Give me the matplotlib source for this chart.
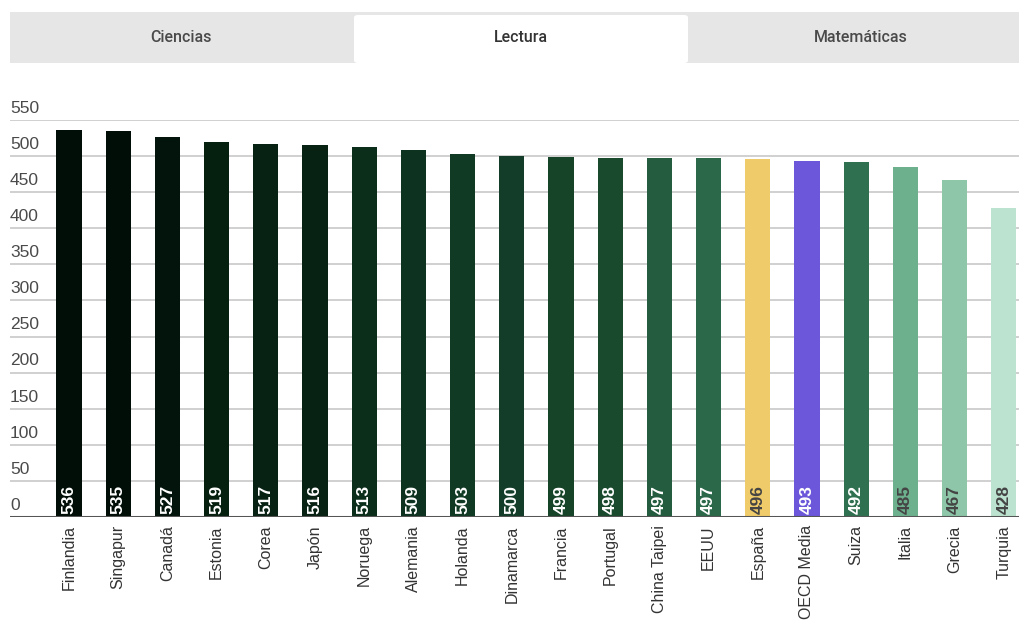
import matplotlib
matplotlib.use('Agg')
import matplotlib.pyplot as plt
import matplotlib.patches as mpatches
from matplotlib.transforms import blended_transform_factory, offset_copy

# ---------------------------------------------------------------------------
# Data
# ---------------------------------------------------------------------------
countries = ['Finlandia', 'Singapur', 'Canadá', 'Estonia', 'Corea', 'Japón',
             'Noruega', 'Alemania', 'Holanda', 'Dinamarca', 'Francia', 'Portugal',
             'China Taipei', 'EEUU', 'España', 'OECD Media', 'Suiza', 'Italia',
             'Grecia', 'Turquia']
scores = [536, 535, 527, 519, 517, 516, 513, 509, 503, 500, 499, 498,
          497, 497, 496, 493, 492, 485, 467, 428]
bar_colors = ['#010e07', '#010e07', '#03140c', '#062010', '#072113', '#072113',
              '#0b2e1b', '#0d3320', '#103a24', '#133d28', '#164428', '#1a4a2e',
              '#235c3e', '#2b684a', '#f0cb69', '#6c56d9', '#2f7050', '#6db08e',
              '#8dc6a8', '#bce3cf']
label_dark = ['España', 'Italia', 'Grecia', 'Turquia']
tabs = ['Ciencias', 'Lectura', 'Matemáticas']
active_tab = 'Lectura'
yticks = list(range(0, 551, 50))

CHART_FONT = ['Liberation Sans', 'DejaVu Sans']
TAB_FONT = ['Roboto', 'DejaVu Sans']
plt.rcParams['font.family'] = CHART_FONT

W, H = 1020, 638
fig = plt.figure(figsize=(W / 100, H / 100), dpi=100)
fig.patch.set_facecolor('white')

# ---------------------------------------------------------------------------
# Tab strip
# ---------------------------------------------------------------------------
strip_x0, strip_x1 = 10, 1020
tab_x0, tab_w = 11, 340
tab_y0, tab_y1 = 63, 12
fig.patches.append(mpatches.Rectangle(
    (strip_x0 / W, 1 - tab_y0 / H), (strip_x1 - strip_x0) / W, (tab_y0 - tab_y1) / H,
    transform=fig.transFigure, facecolor='#e6e6e6', edgecolor='none', zorder=0))
for i, name in enumerate(tabs):
    x0 = tab_x0 + i * tab_w
    if name == active_tab:
        fig.patches.append(mpatches.FancyBboxPatch(
            ((x0 + 3) / W, 1 - tab_y0 / H), (tab_w - 6) / W, (tab_y0 - 15) / H,
            boxstyle='round,pad=0,rounding_size=0.004',
            transform=fig.transFigure, facecolor='white', edgecolor='none', zorder=1))
    fig.text((x0 + tab_w / 2) / W, 1 - 38 / H, name, ha='center', va='center',
             fontsize=11.5, family=TAB_FONT, fontweight='medium',
             color='#333333' if name == active_tab else '#4a4a4a')

# ---------------------------------------------------------------------------
# Bar chart
# ---------------------------------------------------------------------------
ax_top, ax_bot = 120, 517
ax = fig.add_axes([10 / W, 1 - ax_bot / H, 1 - 10 / W, (ax_bot - ax_top) / H])
x = list(range(len(countries)))
ax.bar(x, scores, width=0.51, color=bar_colors, zorder=3)
ax.set_xlim(-1.2, 19.33)
ax.set_ylim(0, 550)

for v in yticks[1:]:
    ax.axhline(v, color='#c8c8c8', lw=1.2, zorder=1)
ax.axhline(0, color='#555555', lw=2.2, zorder=4)

trans = offset_copy(blended_transform_factory(ax.transAxes, ax.transData),
                    fig=fig, x=0, y=3, units='points')
for v in yticks:
    ax.text(0, v, str(v), transform=trans, ha='left', va='bottom',
            fontsize=12.5, color='#4a4a4a', clip_on=False)

for xi, name, val in zip(x, countries, scores):
    ax.text(xi, 4, str(val), rotation=90, ha='center', va='bottom',
            fontsize=12.5, fontweight='bold',
            color='#444444' if name in label_dark else 'white', zorder=5)

ax.set_xticks(x)
ax.set_xticklabels(countries, rotation=90, fontsize=11.5, color='#333333')
ax.tick_params(axis='x', length=0, pad=6)
ax.set_yticks([])
for s in ax.spines.values():
    s.set_visible(False)

fig.savefig('out.png', dpi=100)
